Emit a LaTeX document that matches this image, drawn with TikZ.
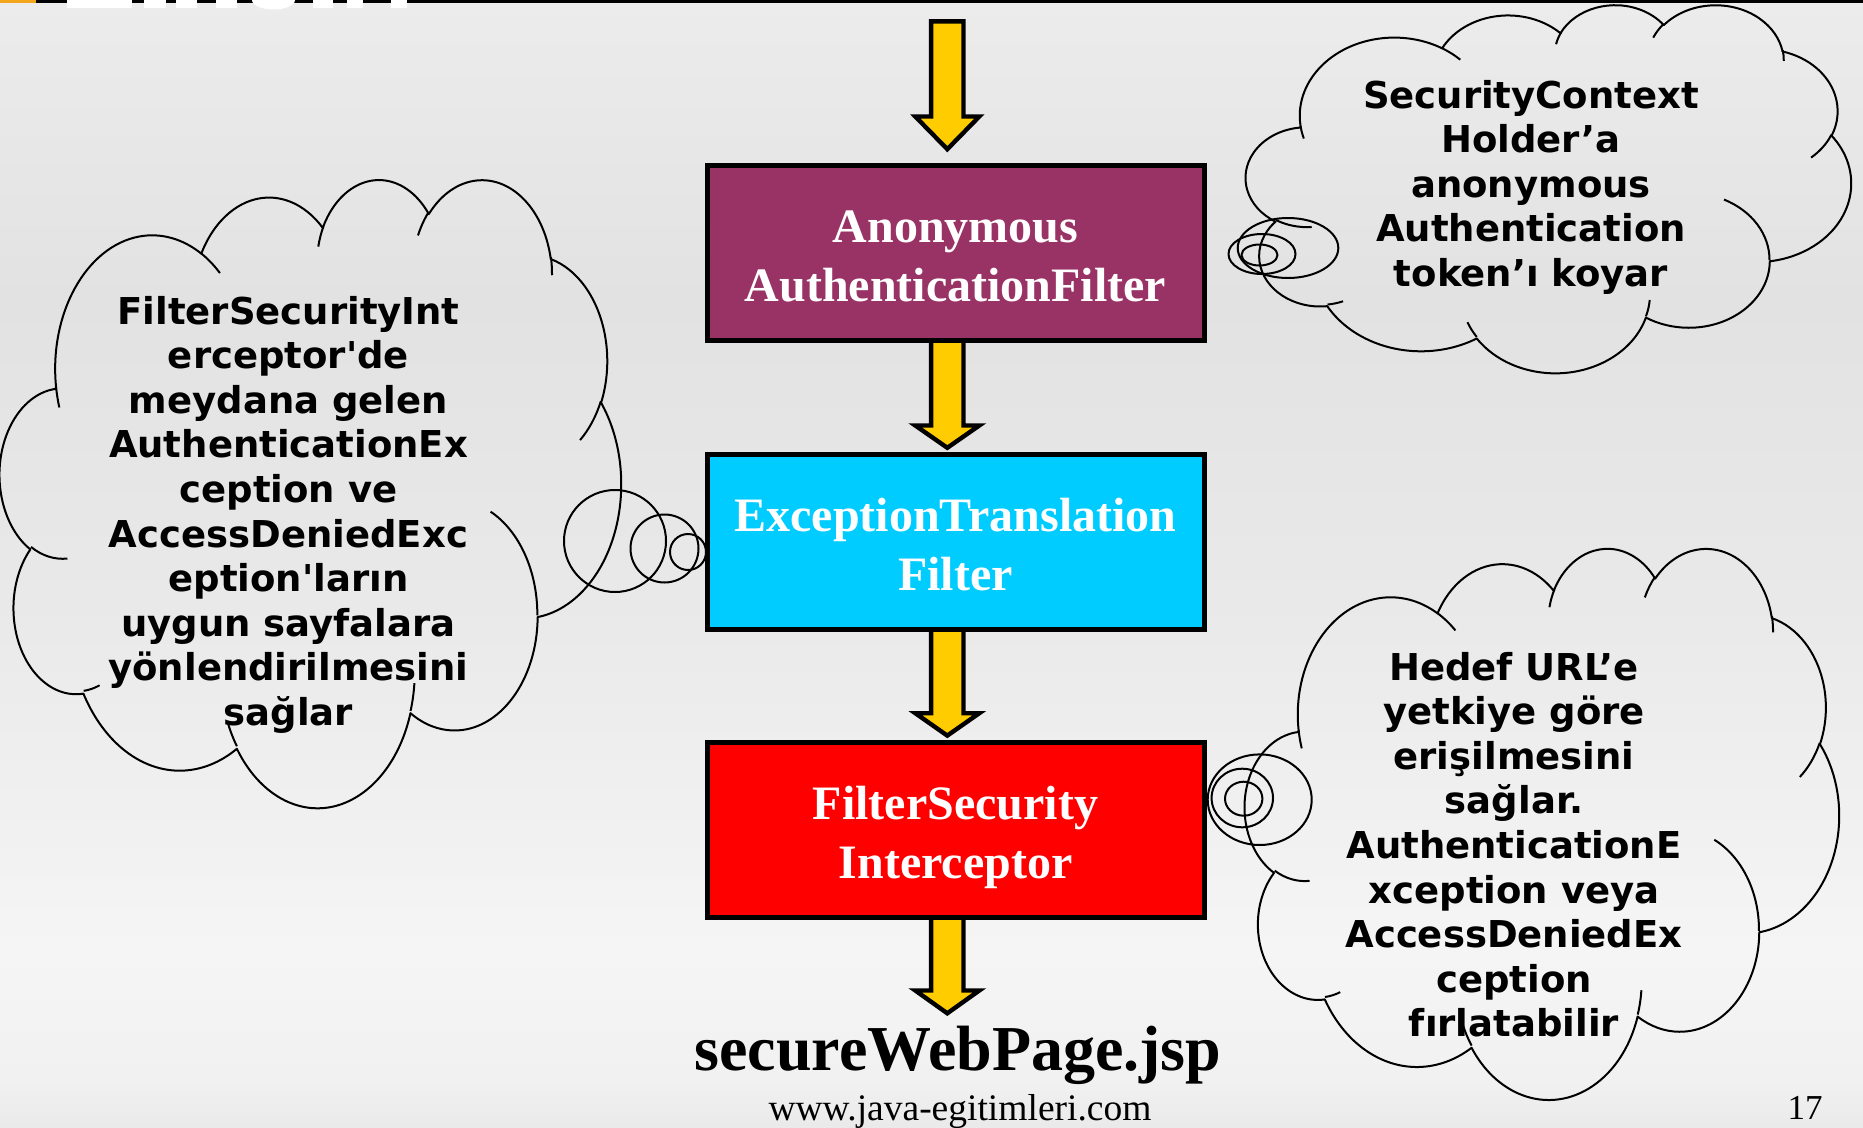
\documentclass[tikz,border=0pt]{standalone}
\usepackage{fontspec}
\setmainfont{Liberation Serif}
\newfontfamily\cloudfont{DejaVu Sans}[Ligatures=TeXOff]
\usetikzlibrary{calc}

\pgfdeclarelayer{backdrop}
\pgfdeclarelayer{arrowlayer}
\pgfsetlayers{backdrop,arrowlayer,main}

\definecolor{boxA}{HTML}{993366}
\definecolor{boxB}{HTML}{00CCFF}
\definecolor{boxC}{HTML}{FF0000}
\definecolor{arrowfill}{HTML}{FFCC00}
\definecolor{bandorange}{RGB}{243,165,28}
\definecolor{bgA}{HTML}{ECECEC}
\definecolor{bgB}{HTML}{E2E2E2}
\definecolor{bgC}{HTML}{E9E9E9}
\definecolor{bgD}{HTML}{F5F5F5}
\definecolor{bgE}{HTML}{F1F1F1}
\definecolor{bgF}{HTML}{EAEAEA}

\tikzset{
  flowbox/.style={draw=black, line width=5pt, minimum width=497pt,
    minimum height=175pt, inner sep=0pt, outer sep=0pt},
  boxtext/.style={text=white, inner sep=0pt, anchor=base,
    font=\fontsize{48}{58.5}\selectfont\bfseries},
  flowarrow/.style={draw=black, fill=arrowfill, line width=4.4pt,
    line join=miter, miter limit=10},
  cloudline/.style={draw=black, line width=2pt, line join=round},
  cloudtext/.style={inner sep=0pt, anchor=base,
    font=\cloudfont\fontsize{37}{44.6}\selectfont\bfseries},
}

% elliptical arc given by radii, visual start angle and sweep (cloud geometry, 43200 units)
\newcommand\oarc[4]{arc[x radius={#1/432/100}, y radius={#2/432/100},
  start angle={atan2(#1*sin(#3),#2*cos(#3))},
  delta angle={mod(atan2(#1*sin(#3+#4),#2*cos(#3+#4))-atan2(#1*sin(#3),#2*cos(#3))+720,360)}]}

% cloud outline in a unit frame (y downwards)
\newcommand\cloudpath{(0.0902778,0.3326389)
  \oarc{6753}{9190}{-190.48748}{123.78053}
  \oarc{5333}{7267}{-144.10238}{89.94523}
  \oarc{4365}{5945}{-145.80792}{99.72302}
  \oarc{4857}{6595}{-130.98607}{117.24173}
  \oarc{5333}{7273}{-78.70888}{109.02692}
  \oarc{6775}{9220}{-46.26725}{130.26900}
  \oarc{5785}{7867}{0.62502}{114.03333}
  \oarc{6752}{9215}{22.45160}{115.17255}
  \oarc{7720}{10543}{66.24263}{75.71102}
  \oarc{4360}{5918}{-274.94208}{146.73557}
  \oarc{4345}{5945}{-246.82850}{152.51885}
  -- cycle}

% the short inner arcs of the cloud
\newcommand\cloudfolds{
  (0.1086343,0.6059491) \oarc{4345}{5945}{86.742}{26.4295}
  (0.1603704,0.8078472) \oarc{4360}{5918}{73.61047}{11.44747}
  (0.3814352,0.9048611) \oarc{6752}{9215}{137.62415}{14.0811}
  (0.6672917,0.8044213) \oarc{6752}{9215}{6.45327}{15.99835}
  (0.7900231,0.5313426) \oarc{5785}{7867}{-70.29235}{70.91737}
  (0.9675463,0.3554167) \oarc{5333}{7273}{30.31803}{27.7515}
  (0.8871296,0.1256019) \oarc{4857}{6595}{-13.74433}{14.86423}
  (0.6731019,0.0914815) \oarc{4857}{6595}{-149.18145}{18.19537}
  (0.5125231,0.1092593) \oarc{4365}{5945}{-163.49427}{17.68635}
  (0.3240741,0.1201852) \oarc{6753}{9190}{-66.70695}{12.31935}
  (0.0955324,0.3654861) \oarc{6753}{9190}{157.65}{11.86}
}

% thick yellow block arrow from #1 down to #2, head length #3
\newcommand\blockarrow[3]{%
  \draw[flowarrow] let \p1=(#1), \p2=(#2) in
    (\x1-16.2,\y1) -- (\x1+16.2,\y1) -- (\x1+16.2,\y2+#3)
    -- (\x1+32,\y2+#3) -- (\x1,\y2) -- (\x1-32,\y2+#3)
    -- (\x1-16.2,\y2+#3) -- cycle;}

\newcommand\stack[1]{\begin{tabular}[t]{@{}c@{}}#1\end{tabular}}

\begin{document}
\begin{tikzpicture}[x=1pt,y=-1pt]
\useasboundingbox (0,0) rectangle (1863,1127);

% slide background
\begin{pgfonlayer}{backdrop}
  \shade[top color=bgA, bottom color=bgB] (0,0) rectangle (1863,300.5);
  \shade[top color=bgB, bottom color=bgC] (0,300) rectangle (1863,600.5);
  \shade[top color=bgC, bottom color=bgD] (0,600) rectangle (1863,950.5);
  \shade[top color=bgD, bottom color=bgE] (0,950) rectangle (1863,1080.5);
  \shade[top color=bgE, bottom color=bgF] (0,1080) rectangle (1863,1127);
  % title band at the top edge
  \fill[bandorange] (0,0) rectangle (36,3);
  \fill[black] (36,0) rectangle (1863,3);
  \fill[white] (66.7,0) rectangle (131.7,8);
  \fill[white] (144,0) rectangle (166,8);
  \fill[white] (176,0) rectangle (197,8);
  \fill[white] (216,0) rectangle (237,8);
  \fill[white] (252,0) arc[start angle=180, end angle=360, x radius=21.5pt, y radius=9.5pt] -- cycle;
  \fill[white] (313,0) rectangle (333,8);
  \fill[white] (347,0) rectangle (363,8);
  \fill[white] (391,0) rectangle (407,8);
\end{pgfonlayer}

% filter chain
\node[flowbox, fill=boxA] (b1) at (955.5,253) {};
\node[flowbox, fill=boxB] (b2) at (955.5,542) {};
\node[flowbox, fill=boxC] (b3) at (955.5,830) {};

\node[boxtext] (t1) at ([yshift=10.3pt]b1.center) {\stack{Anonymous\\AuthenticationFilter}};
\node[boxtext] (t2) at ([yshift=10.3pt]b2.center) {\stack{ExceptionTranslation\\Filter}};
\node[boxtext] (t3) at ([yshift=10.3pt]b3.center) {\stack{FilterSecurity\\Interceptor}};

\coordinate (src) at (947.3,21.3);
\coordinate (dst) at (947.3,1013.3);

\begin{pgfonlayer}{arrowlayer}
  \blockarrow{src}{[xshift=-8.2pt,yshift=16.3pt]b1.north}{32.7}
  \blockarrow{[xshift=-8.2pt]b1.south}{[xshift=-8.2pt,yshift=6.7pt]b2.north}{22.3}
  \blockarrow{[xshift=-8.2pt]b2.south}{[xshift=-8.2pt,yshift=6.9pt]b3.north}{22.4}
  \blockarrow{[xshift=-8.2pt]b3.south}{dst}{22.8}
\end{pgfonlayer}

\node[inner sep=0pt, anchor=base, font=\fontsize{64}{72}\selectfont\bfseries] (page) at (958,1070) {secureWebPage.jsp};
\node[inner sep=0pt, anchor=base, font=\fontsize{37.5}{44}\selectfont] (site) at (960,1120) {www.java-egitimleri.com};
\node[inner sep=0pt, anchor=base, font=\fontsize{35}{40}\selectfont] (pageno) at (1805,1119) {17};

% left cloud
\begin{scope}[shift={(0,178)}, x=621pt, y=-628pt]
  \draw[cloudline] \cloudpath;
  \draw[cloudline] \cloudfolds;
\end{scope}
\draw[cloudline] (615,541) ellipse [x radius=51pt, y radius=51pt];
\draw[cloudline] (664.5,548.5) ellipse [x radius=34pt, y radius=34pt];
\draw[cloudline] (688,552) ellipse [x radius=18pt, y radius=18pt];

% upper right cloud
\begin{scope}[shift={(1246,4)}, x=605pt, y=-368pt]
  \draw[cloudline] \cloudpath;
  \draw[cloudline] \cloudfolds;
\end{scope}
\draw[cloudline] (1288,248) ellipse [x radius=50.3pt, y radius=30pt];
\draw[cloudline] (1262,254) ellipse [x radius=33.5pt, y radius=20pt];
\draw[cloudline] (1259.5,255) ellipse [x radius=18pt, y radius=10.5pt];

% lower right cloud
\begin{scope}[shift={(1245,547)}, x=594pt, y=-551pt]
  \draw[cloudline] \cloudpath;
  \draw[cloudline] \cloudfolds;
\end{scope}
\draw[cloudline] (1259.7,799.7) ellipse [x radius=52pt, y radius=45.3pt];
\draw[cloudline] (1242.3,798) ellipse [x radius=30.7pt, y radius=29.3pt];
\draw[cloudline] (1243.7,798.7) ellipse [x radius=18.7pt, y radius=17pt];

\node[cloudtext] (n1) at (288.5,324) {\stack{FilterSecurityInt\\erceptor'de\\meydana gelen\\AuthenticationEx\\ception ve\\AccessDeniedExc\\eption'ların\\uygun sayfalara\\yönlendirilmesini\\sağlar}};
\node[cloudtext] (n2) at (1531,108) {\stack{SecurityContext\\Holder’a\\anonymous\\Authentication\\token’ı koyar}};
\node[cloudtext] (n3) at (1514,680) {\stack{Hedef URL’e\\yetkiye göre\\erişilmesini\\sağlar.\\AuthenticationE\\xception veya\\AccessDeniedEx\\ception\\fırlatabilir}};

\end{tikzpicture}
\end{document}
